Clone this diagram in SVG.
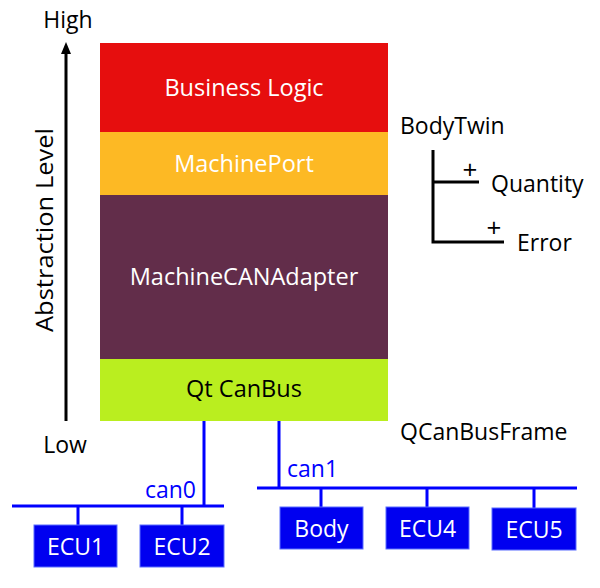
<svg xmlns="http://www.w3.org/2000/svg" width="600" height="588" viewBox="0 0 600 588">
<style>
text{font-family:"Open Sans","Liberation Sans",sans-serif;}
.lbl{font-size:23px;fill:#000;}
.in{font-size:23.5px;fill:#fff;text-anchor:middle;}
.ecu{font-size:23px;fill:#fff;text-anchor:middle;}
.blue{stroke:#0000ff;stroke-width:3;fill:none;}
.ebox{fill:#0000f0;stroke:#5a6cff;stroke-width:1;}
.blk{stroke:#000;stroke-width:3;fill:none;}
.can{font-size:23px;fill:#0000ff;}
.plus{font-size:26px;fill:#000;text-anchor:middle;}
</style>
<rect width="600" height="588" fill="#fff"/>
<g id="axis">
<line x1="66" y1="421" x2="66" y2="50" class="blk" stroke-width="2.5"/>
<path d="M61,54 L66,42 L71,54 Z" fill="#000"/>
<text x="68" y="28" class="lbl" text-anchor="middle">High</text>
<text x="65" y="453" class="lbl" text-anchor="middle">Low</text>
<text transform="translate(53,230) rotate(-90)" class="lbl" text-anchor="middle" textLength="204" lengthAdjust="spacingAndGlyphs">Abstraction Level</text>
</g>
<g id="business-logic">
<rect x="100" y="43" width="288" height="89" fill="#e60e0e"/>
<text x="244" y="96" class="in">Business Logic</text>
</g>
<g id="machine-port">
<rect x="100" y="132" width="288" height="63" fill="#fdb924"/>
<text x="244" y="172" class="in">MachinePort</text>
</g>
<g id="machine-can-adapter">
<rect x="100" y="195" width="288" height="164" fill="#622d4a"/>
<text x="244" y="285" class="in">MachineCANAdapter</text>
</g>
<g id="qt-canbus">
<rect x="100" y="359" width="288" height="62" fill="#baee1f"/>
<text x="244" y="397" class="in" style="fill:#000">Qt CanBus</text>
</g>
<g id="bodytwin">
<text x="400" y="134" class="lbl">BodyTwin</text>
<path d="M433,150 V242 H504 M433,182 H479" class="blk" stroke-width="2.5"/>
<text x="470" y="179" class="plus">+</text>
<text x="494" y="237" class="plus">+</text>
<text x="491" y="192" class="lbl">Quantity</text>
<text x="517" y="251" class="lbl">Error</text>
</g>
<g id="qcanbusframe">
<text x="400" y="440" class="lbl">QCanBusFrame</text>
</g>
<g id="connectors">
<path d="M204,421 V506 M12,506 H224 M78,506 V525 M182,506 V525" class="blue"/>
<path d="M279,421 V488 M257,488 H577 M321,488 V507 M427,488 V507 M534,488 V508" class="blue"/>
<text x="196" y="498" class="can" text-anchor="end">can0</text>
<text x="287" y="477" class="can">can1</text>
</g>
<g id="ecu1"><rect x="34" y="525" width="83" height="42" class="ebox"/><text x="75.5" y="555" class="ecu">ECU1</text></g>
<g id="ecu2"><rect x="140" y="525" width="84" height="42" class="ebox"/><text x="182" y="555" class="ecu">ECU2</text></g>
<g id="body"><rect x="280" y="507" width="83" height="42" class="ebox"/><text x="321.5" y="537" class="ecu">Body</text></g>
<g id="ecu4"><rect x="386" y="507" width="83" height="42" class="ebox"/><text x="427.5" y="537" class="ecu">ECU4</text></g>
<g id="ecu5"><rect x="492" y="508" width="84" height="42" class="ebox"/><text x="534" y="538" class="ecu">ECU5</text></g>
</svg>
